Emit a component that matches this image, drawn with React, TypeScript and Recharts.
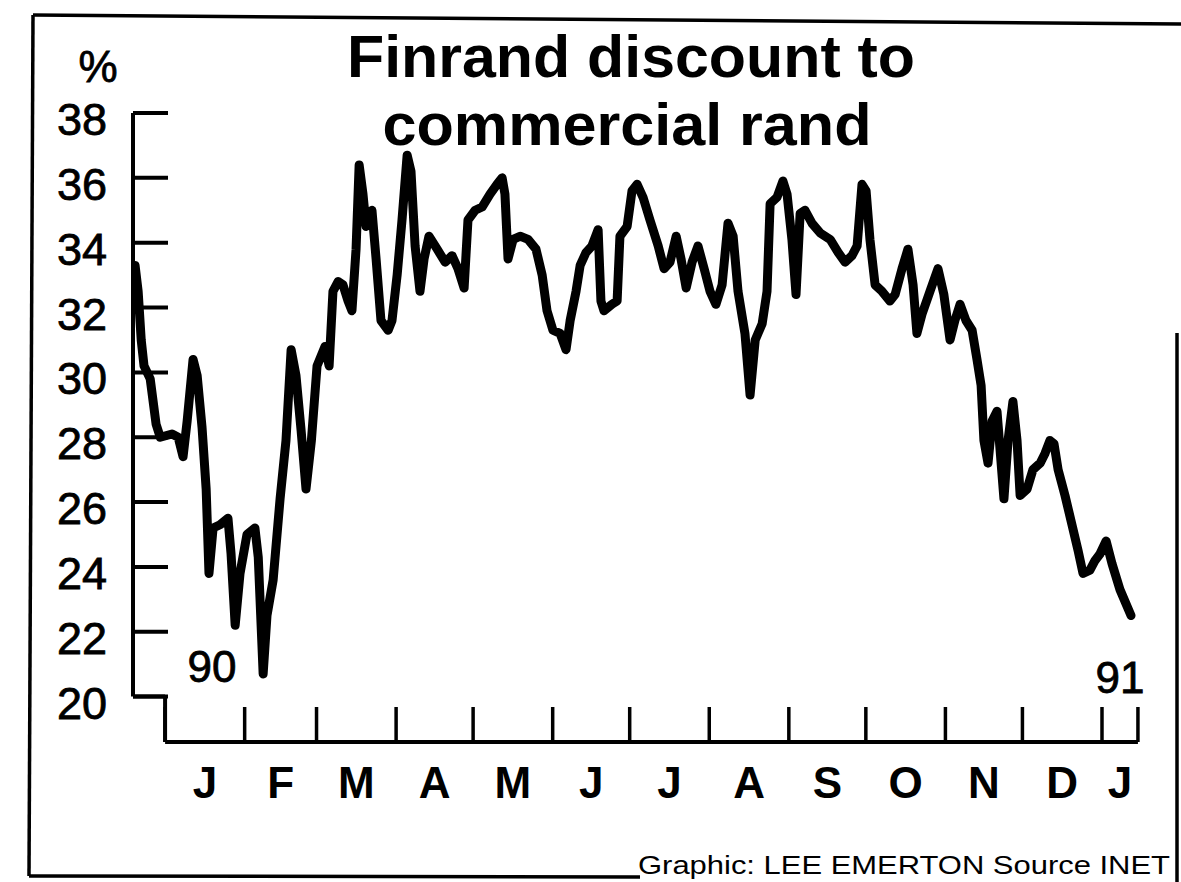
import React from "react";
import { LineChart, Line, XAxis, YAxis, ReferenceLine } from "recharts";

// days since 1 Jan 1990 (negative = late Dec 1989)
const days = [
  -11.7, -10.5, -9.3, -8.2, -5.8, -3.5, -1.9, 2.7, 5.1, 7.0, 8.6, 10.9, 12.5, 14.4, 16.0, 17.1, 18.7, 21.4, 24.5, 25.7,
  27.3, 29.2, 31.9, 35.0, 36.3, 38.2, 39.7, 42.1, 44.8, 47.1, 49.1, 51.0, 53.0, 54.9, 57.0, 59.2, 62.3, 63.9, 65.4, 67.4,
  69.3, 71.3, 72.8, 74.4, 75.6, 77.1, 78.3, 80.6, 82.2, 84.1, 86.9, 88.4, 90.4, 92.3, 94.3, 95.8, 97.4, 99.3, 100.9, 102.8,
  106.0, 109.1, 111.8, 114.1, 116.5, 118.0, 120.8, 123.5, 126.6, 129.3, 131.3, 132.4, 133.6, 135.6, 138.3, 141.4, 144.5, 146.9, 148.8, 151.1,
  153.9, 156.2, 157.8, 160.1, 161.7, 164.0, 166.3, 168.7, 169.8, 171.0, 174.1, 176.1, 177.2, 180.0, 181.9, 183.9, 186.2, 188.9, 192.1, 194.4,
  196.7, 199.1, 201.0, 203.0, 205.3, 207.6, 210.0, 212.3, 214.6, 217.0, 219.3, 221.3, 223.2, 225.9, 227.9, 229.9, 232.6, 234.5, 235.7, 238.4,
  240.7, 242.3, 244.2, 245.8, 247.4, 249.3, 252.0, 255.2, 259.1, 262.2, 264.9, 267.6, 269.6, 271.5, 273.1, 274.6, 276.6, 279.3, 282.4, 284.4,
  287.1, 289.4, 291.4, 292.9, 294.9, 298.0, 301.1, 303.4, 305.8, 307.7, 309.7, 312.0, 314.4, 316.3, 317.9, 319.0, 320.6, 322.2, 324.1, 325.3,
  326.8, 328.4, 330.3, 331.9, 333.1, 335.8, 338.1, 340.9, 342.8, 344.7, 346.3, 347.9, 350.6, 353.3, 355.7, 357.6, 360.3, 362.3, 364.2, 366.6,
  368.9, 372.0, 376.3,
];

// Finrand discount to commercial rand, %
const discount = [
  33.3, 32.5, 31.0, 30.2, 29.8, 28.4, 28.0, 28.1, 28.0, 27.4, 28.5, 30.4, 29.9, 28.3, 26.4, 23.8, 25.2, 25.3, 25.5, 24.4,
  22.2, 23.8, 25.0, 25.2, 24.3, 20.7, 22.5, 23.6, 26.1, 27.9, 30.7, 29.9, 28.2, 26.4, 27.9, 30.2, 30.8, 30.2, 32.5, 32.8,
  32.7, 32.2, 31.9, 33.8, 36.4, 35.5, 34.5, 35.0, 33.5, 31.6, 31.3, 31.6, 33.0, 34.7, 36.7, 36.2, 33.9, 32.5, 33.5, 34.2,
  33.8, 33.4, 33.6, 33.2, 32.6, 34.7, 35.0, 35.1, 35.5, 35.8, 36.0, 35.5, 33.5, 34.1, 34.2, 34.1, 33.8, 33.0, 31.9, 31.3,
  31.2, 30.7, 31.6, 32.5, 33.3, 33.7, 33.9, 34.4, 32.2, 31.9, 32.1, 32.2, 34.2, 34.5, 35.6, 35.8, 35.4, 34.7, 33.9, 33.2,
  33.4, 34.2, 33.5, 32.6, 33.4, 33.9, 33.2, 32.5, 32.1, 32.7, 34.6, 34.2, 32.5, 31.2, 29.3, 31.0, 31.5, 32.5, 35.2, 35.4,
  35.9, 35.5, 34.1, 32.4, 34.9, 35.0, 34.6, 34.3, 34.1, 33.7, 33.4, 33.6, 33.9, 35.8, 35.6, 34.1, 32.7, 32.5, 32.2, 32.4,
  33.2, 33.8, 32.7, 31.2, 31.8, 32.5, 33.2, 32.4, 31.0, 31.6, 32.1, 31.6, 31.3, 30.4, 29.6, 27.9, 27.2, 28.5, 28.8, 27.6,
  26.1, 27.9, 29.1, 27.9, 26.2, 26.4, 27.0, 27.2, 27.5, 27.9, 27.8, 27.0, 26.2, 25.3, 24.5, 23.8, 23.9, 24.2, 24.4, 24.8,
  24.1, 23.3, 22.5,
];

const yTicks = [20, 22, 24, 26, 28, 30, 32, 34, 36, 38];
const monthStarts = [0, 31, 59, 90, 120, 151, 181, 212, 243, 273, 304, 334, 365, 379];
const monthMids = [15.5, 45, 74.5, 105, 135.5, 166, 196.5, 227.5, 258, 288.5, 319, 349.5, 372];
const monthLabels = ["J", "F", "M", "A", "M", "J", "J", "A", "S", "O", "N", "D", "J"];

const titleLines = ["Finrand discount to", "commercial rand"];
const yearLabels = ["90", "91"];
const unitLabel = "%";
const creditText = "Graphic: LEE EMERTON   Source INET";

const Y_MIN = 18.6;
const Y_MAX = 38;
const X_MIN = -12.5;
const X_MAX = 380;

const data = days.map((d, i) => ({ day: d, v: discount[i] }));
const xTicks = [...monthStarts, ...monthMids].sort((a, b) => a - b);

const FONT = "'Liberation Sans', Arial, Helvetica, sans-serif";
const INK = "#000";

const YTick = (props: any) => {
  const { x, y, payload } = props;
  return (
    <g>
      <line x1={x} x2={x + 35} y1={y} y2={y} stroke={INK} strokeWidth={4} />
      <text x={x - 26} y={y + 22} textAnchor="end" fontFamily={FONT} fontSize={45} fill={INK} stroke={INK} strokeWidth={0.8}>
        {payload.value}
      </text>
    </g>
  );
};

const XTick = (props: any) => {
  const { x, y, payload } = props;
  const v = payload.value;
  const si = monthStarts.indexOf(v);
  if (si >= 0) {
    return <line x1={x} x2={x} y1={y} y2={y - 35} stroke={INK} strokeWidth={3.5} />;
  }
  const mi = monthMids.indexOf(v);
  return (
    <text x={x} y={y + 56} textAnchor="middle" fontFamily={FONT} fontWeight="bold" fontSize={44} fill={INK}>
      {mi >= 0 ? monthLabels[mi] : ""}
    </text>
  );
};

const W = 1173;
const H = 874;

export default function App() {
  return (
    <div style={{ position: "absolute", left: 8, top: 8, width: W, height: H, background: "#fff", overflow: "hidden" }}>
      <LineChart
        width={W}
        height={H}
        data={data}
        margin={{ top: 105, right: 40.5, bottom: 80, left: 0 }}
      >
        <XAxis
          dataKey="day"
          type="number"
          domain={[X_MIN, X_MAX]}
          ticks={xTicks}
          interval={0}
          allowDataOverflow
          axisLine={false}
          tickLine={false}
          tickSize={0}
          tickMargin={0}
          height={60}
          tick={(p: any) => <XTick {...p} />}
        />
        <YAxis
          type="number"
          domain={[Y_MIN, Y_MAX]}
          ticks={yTicks}
          interval={0}
          allowDataOverflow
          axisLine={false}
          tickLine={false}
          tickSize={0}
          tickMargin={0}
          width={125}
          tick={(p: any) => <YTick {...p} />}
        />
        <ReferenceLine
          segment={[{ x: X_MIN, y: Y_MAX }, { x: X_MIN, y: 20 }]}
          stroke={INK}
          strokeWidth={4}
          ifOverflow="visible"
        />
        <ReferenceLine
          segment={[{ x: X_MIN, y: 20 }, { x: 0, y: 20 }]}
          stroke={INK}
          strokeWidth={4}
          ifOverflow="visible"
        />
        <ReferenceLine
          segment={[{ x: 0, y: 20 }, { x: 0, y: Y_MIN }]}
          stroke={INK}
          strokeWidth={4}
          ifOverflow="visible"
        />
        <ReferenceLine
          segment={[{ x: 0, y: Y_MIN }, { x: 379, y: Y_MIN }]}
          stroke={INK}
          strokeWidth={4}
          ifOverflow="visible"
        />
        <Line
          type="linear"
          dataKey="v"
          stroke={INK}
          strokeWidth={9}
          strokeLinejoin="round"
          strokeLinecap="round"
          dot={false}
          isAnimationActive={false}
        />
      </LineChart>
      <svg
        width={W}
        height={H}
        style={{ position: "absolute", left: 0, top: 0, pointerEvents: "none" }}
      >
        {/* frame */}
        <line x1={25} y1={7} x2={1173} y2={16} stroke={INK} strokeWidth={3.5} />
        <line x1={25} y1={7} x2={21} y2={868} stroke={INK} strokeWidth={3.5} />
        <line x1={21} y1={868} x2={632} y2={869} stroke={INK} strokeWidth={3.5} />
        <line x1={1169} y1={325} x2={1169} y2={874} stroke={INK} strokeWidth={3.5} />
        {/* title */}
        <text x={623} y={69} textAnchor="middle" fontFamily={FONT} fontWeight="bold" fontSize={60} textLength={568} lengthAdjust="spacingAndGlyphs" fill={INK}>
          {titleLines[0]}
        </text>
        <text x={619} y={137} textAnchor="middle" fontFamily={FONT} fontWeight="bold" fontSize={60} textLength={489} lengthAdjust="spacingAndGlyphs" fill={INK}>
          {titleLines[1]}
        </text>
        <text x={90} y={74} textAnchor="middle" fontFamily={FONT} fontSize={44} fill={INK} stroke={INK} strokeWidth={0.8}>
          {unitLabel}
        </text>
        <text x={204} y={674} textAnchor="middle" fontFamily={FONT} fontSize={44} fill={INK} stroke={INK} strokeWidth={0.8}>
          {yearLabels[0]}
        </text>
        <text x={1112} y={685} textAnchor="middle" fontFamily={FONT} fontSize={44} fill={INK} stroke={INK} strokeWidth={0.8}>
          {yearLabels[1]}
        </text>
        <text x={630} y={866} fontFamily={FONT} fontSize={26} textLength={532} lengthAdjust="spacingAndGlyphs" fill={INK}>
          {creditText}
        </text>
      </svg>
    </div>
  );
}
